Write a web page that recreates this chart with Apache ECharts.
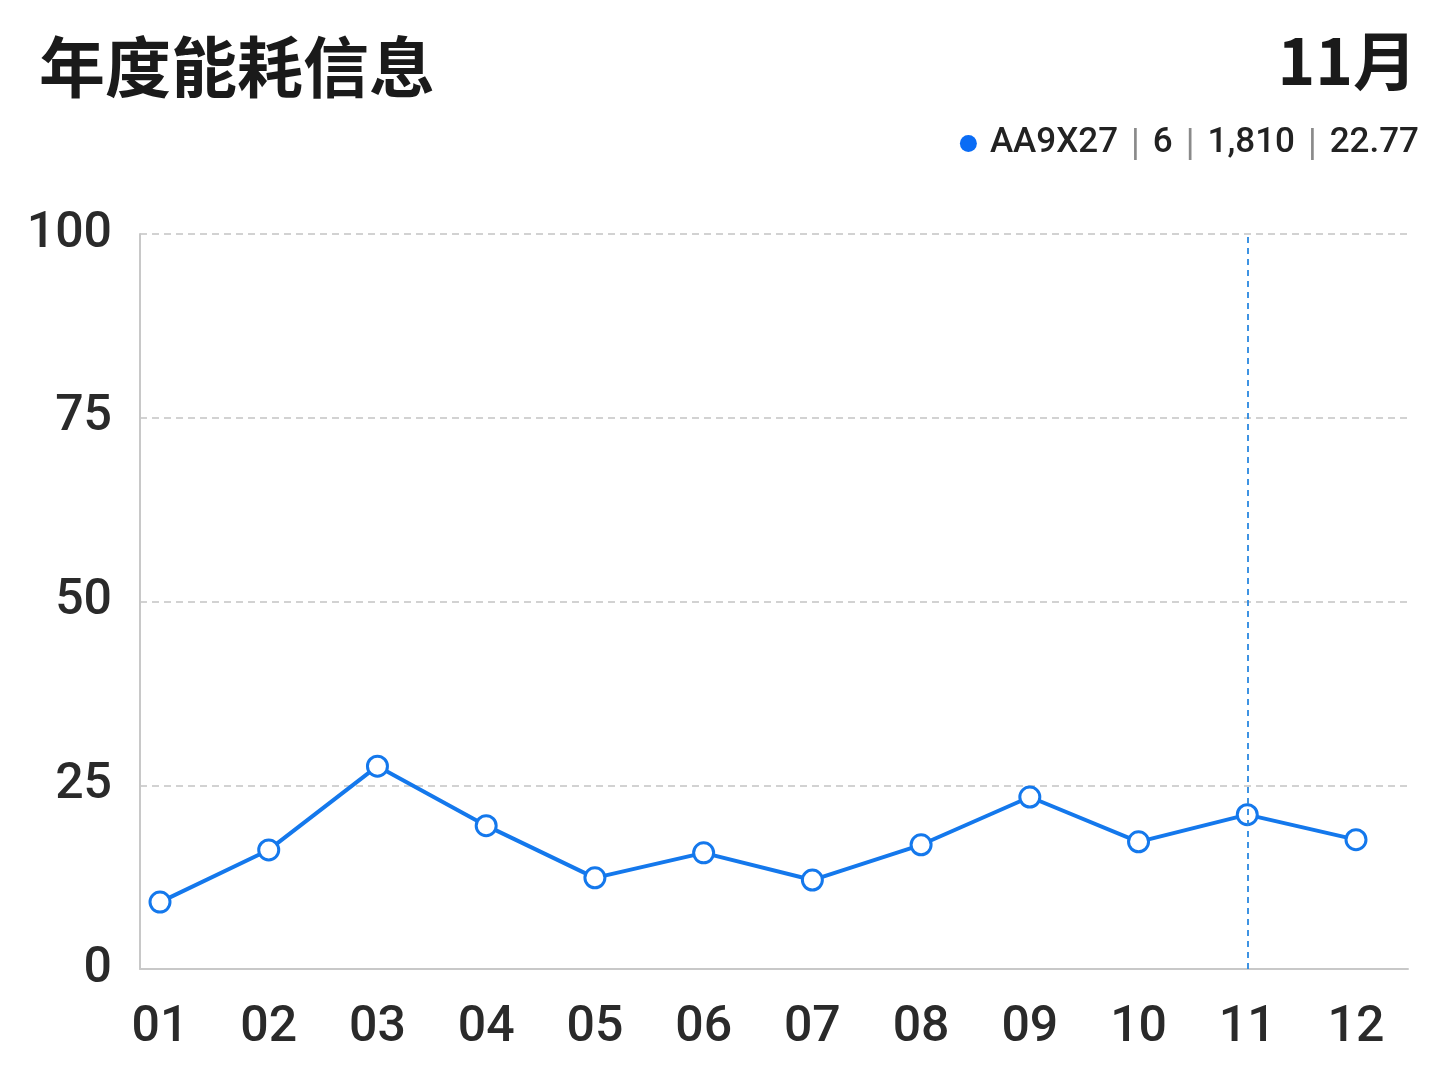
<!DOCTYPE html>
<html>
<head>
<meta charset="utf-8">
<script src="https://cdn.jsdelivr.net/npm/echarts@6/dist/echarts.min.js"></script>
<style>
html,body{margin:0;padding:0;background:#ffffff;}
#chart{width:1448px;height:1086px;}
</style>
</head>
<body>
<div id="chart"></div>
<script>
const titleText = '年度能耗信息';
const monthText = '11月';
const seriesName = 'AA9X27';
const legendValues = ['6', '1,810', '22.77'];
const months = ['01','02','03','04','05','06','07','08','09','10','11','12'];
const values = [9.1, 16.2, 27.6, 19.5, 12.4, 15.8, 12.1, 16.9, 23.4, 17.3, 21.0, 17.6];
const yTicks = { min: 0, max: 100, interval: 25 };
const highlightMonth = '11';

const numFont = 'Roboto, "Noto Sans", sans-serif';
const chart = echarts.init(document.getElementById('chart'));
chart.setOption({
  backgroundColor: '#ffffff',
  animation: false,
  title: [
    { text: titleText, left: 34, top: 29,
      textStyle: { fontFamily: '"Noto Sans CJK SC"', fontSize: 66, fontWeight: 'bold', color: '#1a1a1a' } },
    { text: monthText, right: 26, top: 24,
      textStyle: { fontFamily: '"Noto Sans CJK SC"', fontSize: 64, fontWeight: 'bold', color: '#1a1a1a' } }
  ],
  legend: {
    right: 24, top: 121,
    icon: 'circle', itemWidth: 17, itemHeight: 17, itemGap: 10,
    itemStyle: { color: '#0a6cf5', borderWidth: 0 },
    data: [seriesName],
    formatter: function (name) {
      return '{g|}{n|' + name + '}' + legendValues.map(v => '{s||}{n|' + v + '}').join('');
    },
    textStyle: {
      rich: {
        g: { width: 8 },
        n: { fontFamily: numFont, fontSize: 35, fontWeight: 500, color: '#222222' },
        s: { fontFamily: '"DejaVu Sans"', fontSize: 32, color: '#8a8a8a', padding: [0, 12, 0, 12] }
      }
    }
  },
  grid: [
    { left: 140, right: 40, top: 234, bottom: 117 },
    { left: 160, right: 92, top: 234, bottom: 117 }
  ],
  xAxis: [
    { gridIndex: 0, type: 'value', min: 0, max: 1,
      axisLine: { show: true, lineStyle: { color: '#c8c8c8', width: 2 } },
      axisTick: { show: false }, axisLabel: { show: false }, splitLine: { show: false } },
    { gridIndex: 1, type: 'category', data: months, boundaryGap: false,
      axisLine: { show: false }, axisTick: { show: false }, splitLine: { show: false },
      axisLabel: { margin: 34, fontFamily: numFont, fontSize: 50, fontWeight: 500, color: '#2a2a2a' } }
  ],
  yAxis: [
    { gridIndex: 0, type: 'value', min: yTicks.min, max: yTicks.max, interval: yTicks.interval,
      axisLine: { show: true, lineStyle: { color: '#c8c8c8', width: 2 } },
      axisTick: { show: false },
      axisLabel: { margin: 28, fontFamily: numFont, fontSize: 50, fontWeight: 500, color: '#2a2a2a' },
      splitLine: { show: true, lineStyle: { type: [7, 5], color: '#c4c4c4', width: 1.5 } } },
    { gridIndex: 1, type: 'value', min: yTicks.min, max: yTicks.max, interval: yTicks.interval,
      show: false, splitLine: { show: false } }
  ],
  series: [{
    name: seriesName,
    type: 'line',
    xAxisIndex: 1, yAxisIndex: 1,
    data: values,
    color: '#1478ec',
    symbol: 'circle', symbolSize: 20,
    itemStyle: { color: '#ffffff', borderColor: '#1478ec', borderWidth: 3 },
    lineStyle: { color: '#1478ec', width: 4 },
    markLine: {
      silent: true, symbol: 'none', label: { show: false },
      lineStyle: { type: [6, 5], color: '#2a88e0', width: 1.8 },
      data: [{ xAxis: highlightMonth }]
    },
    z: 3
  }]
});
</script>
</body>
</html>
